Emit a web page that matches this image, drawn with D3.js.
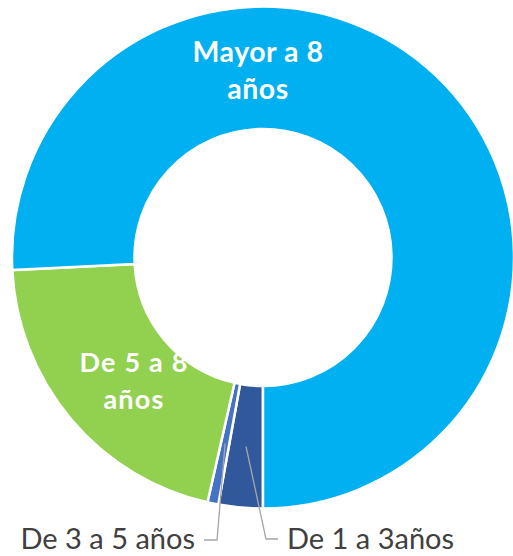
<!DOCTYPE html>
<html><head><meta charset="utf-8">
<script src="https://cdn.jsdelivr.net/npm/d3@7/dist/d3.min.js"></script>
<style>html,body{margin:0;padding:0;background:#fff;}svg{display:block;}</style>
</head><body>
<svg id="c" width="513" height="556"></svg>
<script>
const categories = ["De 1 a 3años", "De 3 a 5 años", "De 5 a 8 años", "Mayor a 8 años"];
const values = [2.85, 0.7, 20.65, 75.8];
const colors = ["#30589A", "#4472C4", "#92D050", "#00B0F0"];

const svg = d3.select("#c");
const cx = 263, cy = 257.5, R = 251, r0 = 128.5;
const g = svg.append("g").attr("transform", `translate(${cx},${cy})`);

const pie = d3.pie().sort(null).value(d => d.v).startAngle(Math.PI).endAngle(3 * Math.PI);
const data = categories.map((c, i) => ({ c, v: values[i], col: colors[i] }));
const arcs = pie(data);
const arc = d3.arc().innerRadius(r0).outerRadius(R);
const midArc = d3.arc().innerRadius((r0 + R) / 2).outerRadius((r0 + R) / 2);

g.selectAll("path.slice").data(arcs).enter().append("path")
  .attr("class", "slice")
  .attr("d", arc)
  .attr("fill", d => d.data.col)
  .attr("stroke", "#fff")
  .attr("stroke-width", 2.5)
  .attr("stroke-linejoin", "miter");

// inside labels
function inLabel(lines, x, y, size, ls) {
  const t = svg.append("text").attr("x", x).attr("y", y)
    .attr("text-anchor", "middle").attr("fill", "#fff")
    .attr("font-family", "Lato, 'Open Sans', sans-serif").attr("font-weight", "bold")
    .attr("font-size", size).attr("letter-spacing", ls);
  lines.forEach((l, i) => t.append("tspan").attr("x", x).attr("dy", i === 0 ? 0 : 37).text(l));
}
inLabel(["Mayor a 8", "años"], cx - 5, 62, 28.5, 0.5);
inLabel(["De 5 a 8", "años"], 134, 372, 27, 1.2);

// outside labels with leader lines
const lineCol = "#A6A6A6";
const outer = [
  { i: 0, elbow: [266, 539], end: [278, 539], tx: 287, anchor: "start" },
  { i: 1, elbow: [217, 540], end: [204, 540], tx: 195, anchor: "end" }
];
outer.forEach(o => {
  const c = midArc.centroid(arcs[o.i]);
  const p0 = [cx + c[0], cy + c[1]];
  svg.append("polyline")
    .attr("points", [p0, o.elbow, o.end].map(p => p.join(",")).join(" "))
    .attr("fill", "none").attr("stroke", lineCol).attr("stroke-width", 1.3);
  svg.append("text").attr("x", o.tx).attr("y", 549)
    .attr("text-anchor", o.anchor).attr("fill", "#404040")
    .attr("font-family", "Lato, 'Open Sans', sans-serif")
    .attr("font-size", 29)
    .text(categories[o.i]);
});
</script>
</body></html>
